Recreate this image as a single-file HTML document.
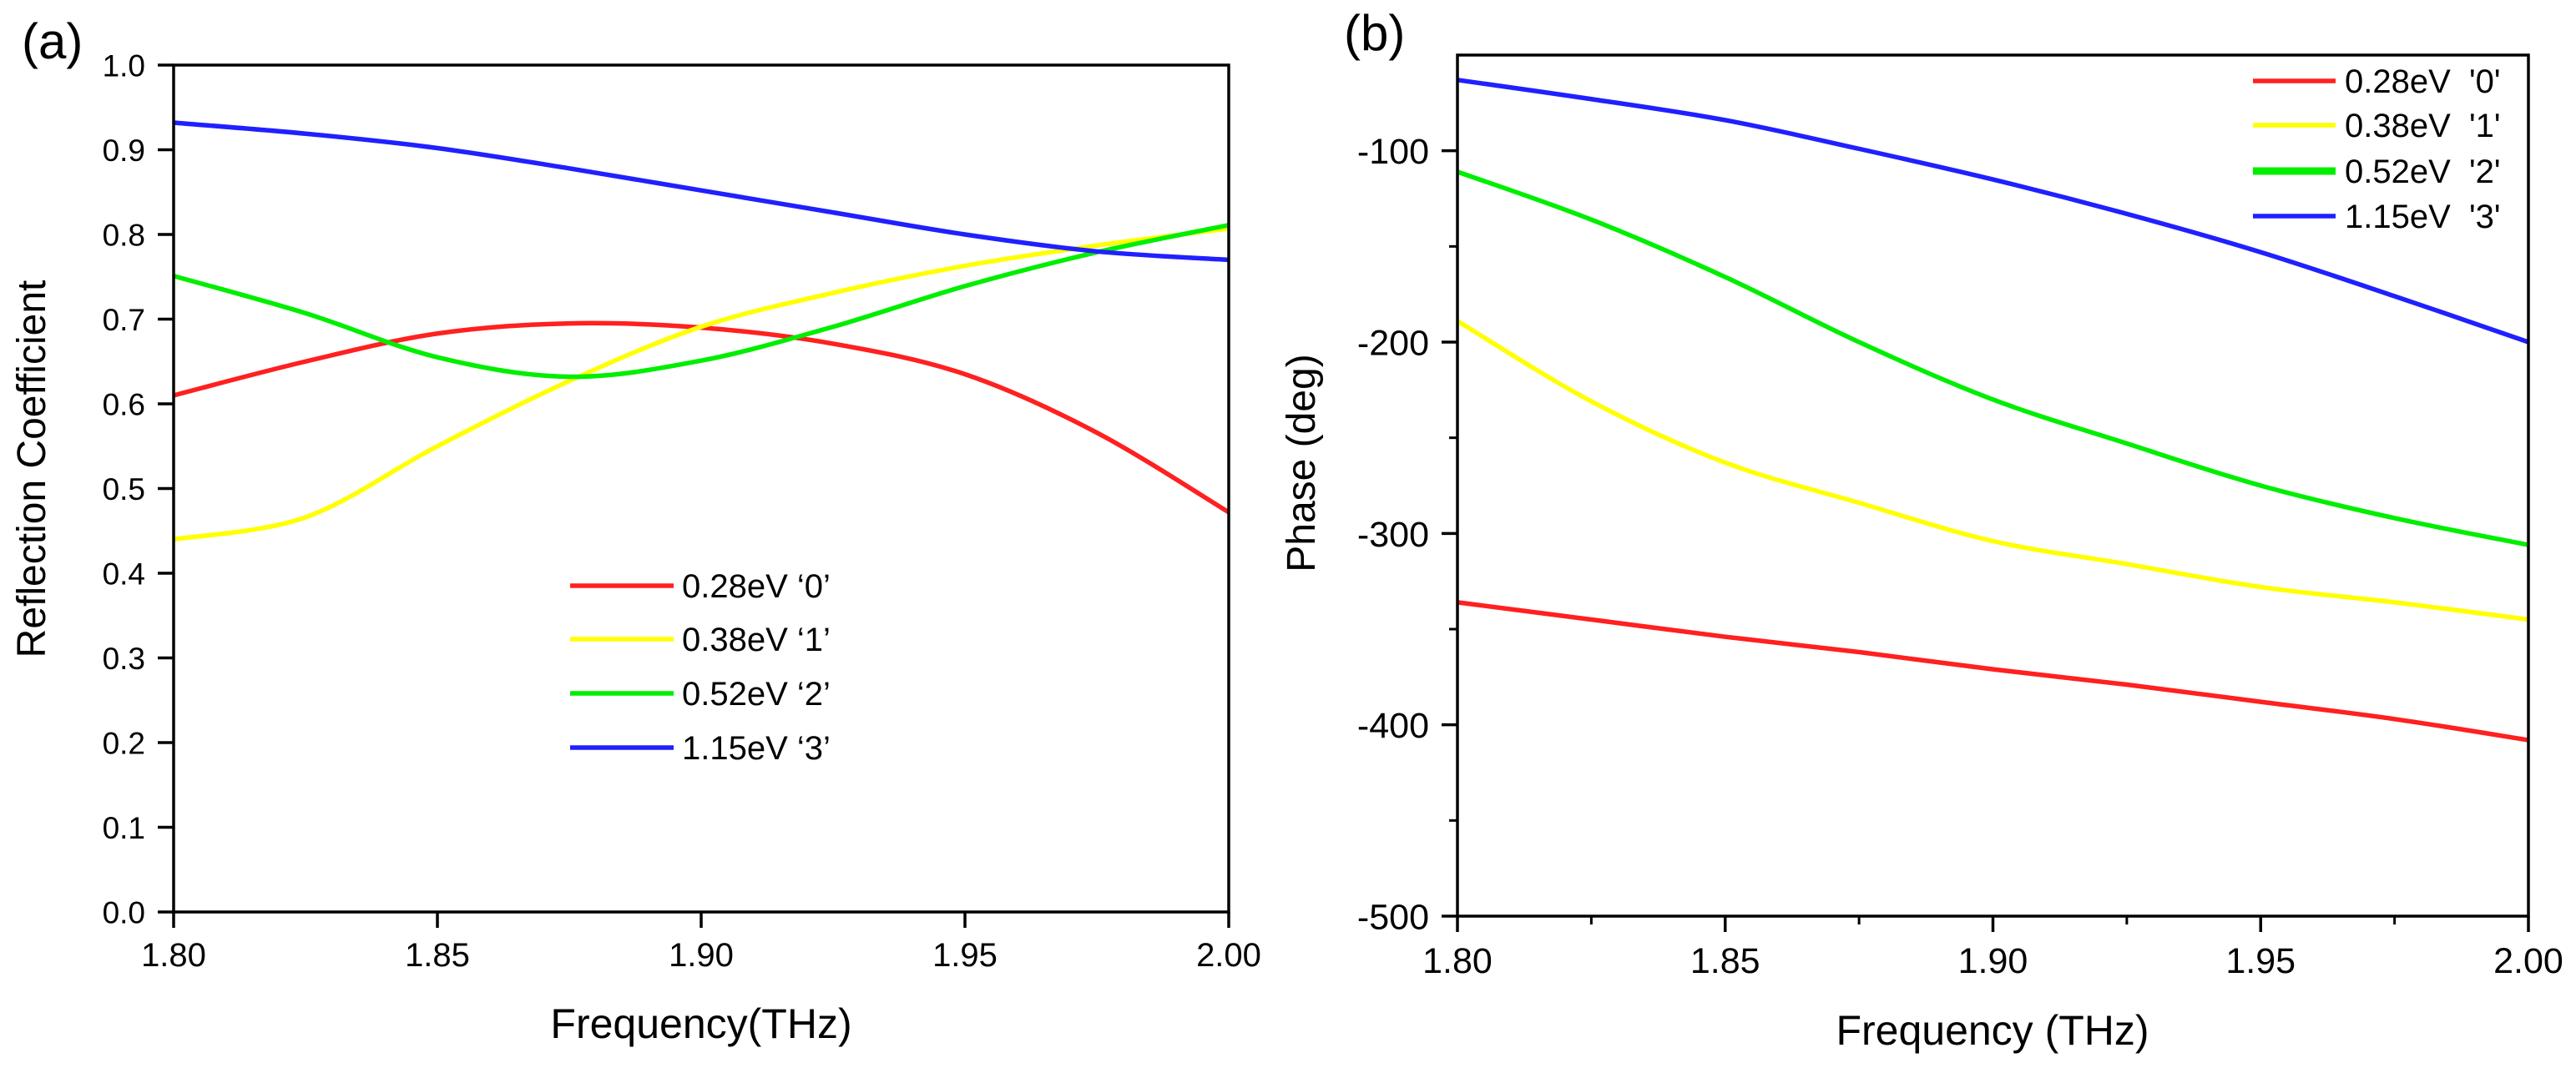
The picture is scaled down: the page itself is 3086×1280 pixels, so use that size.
<!DOCTYPE html>
<html><head><meta charset="utf-8"><style>
html,body{margin:0;padding:0;background:#fff;}
svg{display:block;font-family:"Liberation Sans",Arial,sans-serif;}
text{white-space:pre;}
</style></head><body>
<svg id="fig" width="3086" height="1280" viewBox="0 0 3086 1280" xmlns="http://www.w3.org/2000/svg"></svg>
<script>
// ---- Data: panel (a) reflection coefficient ----
const freqA = [1.80, 1.825, 1.85, 1.875, 1.90, 1.925, 1.95, 1.975, 2.00];
const reflRed = [0.610, 0.650, 0.683, 0.695, 0.690, 0.671, 0.635, 0.566, 0.472];
const reflYellow = [0.440, 0.466, 0.550, 0.627, 0.691, 0.731, 0.763, 0.787, 0.807];
const reflGreen = [0.751, 0.707, 0.655, 0.632, 0.651, 0.691, 0.739, 0.779, 0.811];
const reflBlue = [0.932, 0.919, 0.902, 0.878, 0.852, 0.826, 0.800, 0.780, 0.770];
const xTicksA = [1.80, 1.85, 1.90, 1.95, 2.00];
const xTickLabelsA = ["1.80", "1.85", "1.90", "1.95", "2.00"];
const yTicksA = [0, 0.1, 0.2, 0.3, 0.4, 0.5, 0.6, 0.7, 0.8, 0.9, 1.0];
const yTickLabelsA = ["0.0","0.1","0.2","0.3","0.4","0.5","0.6","0.7","0.8","0.9","1.0"];
// ---- Data: panel (b) phase ----
const freqB = [1.80, 1.825, 1.85, 1.875, 1.90, 1.925, 1.95, 1.975, 2.00];
const phaseRed = [-336, -345, -354, -362, -371, -379, -388, -397, -408];
const phaseYellow = [-189, -231, -263, -284, -304, -316, -328, -336, -345];
const phaseGreen = [-111, -136, -166, -200, -230, -253, -275, -292, -306];
const phaseBlue = [-63, -73, -84, -99, -115, -133, -153, -176, -200];
const xTicksB = [1.80, 1.85, 1.90, 1.95, 2.00];
const xTickLabelsB = ["1.80", "1.85", "1.90", "1.95", "2.00"];
const xMinorB = [1.825, 1.875, 1.925, 1.975];
const yTicksB = [-500, -400, -300, -200, -100];
const yTickLabelsB = ["-500", "-400", "-300", "-200", "-100"];
const yMinorB = [-450, -350, -250, -150];
const legendLabelsA = ["0.28eV \u20180\u2019", "0.38eV \u20181\u2019", "0.52eV \u20182\u2019", "1.15eV \u20183\u2019"];
const legendLabelsB = ["0.28eV  '0'", "0.38eV  '1'", "0.52eV  '2'", "1.15eV  '3'"];
const colors = ["#ff2020", "#ffff00", "#00ee00", "#2020ff"];

const NS = "http://www.w3.org/2000/svg";
const svg = document.getElementById("fig");
function mk(tag, attrs, parent, text) {
  const e = document.createElementNS(NS, tag);
  for (const k in attrs) e.setAttribute(k, attrs[k]);
  if (text !== undefined) e.textContent = text;
  (parent || svg).appendChild(e);
  return e;
}
function smoothPath(pts) {
  let d = "M" + pts[0][0] + "," + pts[0][1];
  for (let i = 0; i < pts.length - 1; i++) {
    const p0 = pts[i - 1] || pts[i], p1 = pts[i], p2 = pts[i + 1], p3 = pts[i + 2] || p2;
    const c1 = [p1[0] + (p2[0] - p0[0]) / 6, p1[1] + (p2[1] - p0[1]) / 6];
    const c2 = [p2[0] - (p3[0] - p1[0]) / 6, p2[1] - (p3[1] - p1[1]) / 6];
    d += " C" + c1.join(",") + " " + c2.join(",") + " " + p2.join(",");
  }
  return d;
}

function panel(cfg) {
  const g = mk("g", {});
  
  
  const {L, R, T, B, x0, x1, y0, y1} = cfg;
  const sx = v => L + (v - x0) / (x1 - x0) * (R - L);
  const sy = v => B - (v - y0) / (y1 - y0) * (B - T);
  cfg.series.forEach((s, i) => {
    const pts = s.map((v, j) => [sx(cfg.xs[j]), sy(v)]);
    const p = mk("path", {d: smoothPath(pts), fill: "none", stroke: colors[i], "stroke-width": 5.5, "stroke-linejoin": "round"}, g);
    
    
  });
  const f = mk("rect", {x: L, y: T, width: R - L, height: B - T, fill: "none", stroke: "#000", "stroke-width": 3.5}, g);
  
  
  cfg.xTicks.forEach((v, i) => {
    const x = sx(v);
    mk("line", {x1: x, y1: B, x2: x, y2: B + 19, stroke: "#000", "stroke-width": 3.5}, g);
    const t = mk("text", {x: x, y: B + cfg.xLabOff, "text-anchor": "middle", "font-size": cfg.tickFs}, g, cfg.xLabels[i]);
    
    
  });
  (cfg.xMinor || []).forEach(v => mk("line", {x1: sx(v), y1: B, x2: sx(v), y2: B + 10, stroke: "#000", "stroke-width": 3}, g));
  cfg.yTicks.forEach((v, i) => {
    const y = sy(v);
    mk("line", {x1: L - 19, y1: y, x2: L, y2: y, stroke: "#000", "stroke-width": 3.5}, g);
    const t = mk("text", {x: L - 34, y: y + cfg.yFs * 0.36, "text-anchor": "end", "font-size": cfg.yFs}, g, cfg.yLabels[i]);
    
    
  });
  (cfg.yMinor || []).forEach(v => mk("line", {x1: L - 10, y1: sy(v), x2: L, y2: sy(v), stroke: "#000", "stroke-width": 3}, g));
  const xt = mk("text", {x: cfg.xTitle[1], y: cfg.xTitle[2], "text-anchor": "middle", "font-size": 50}, g, cfg.xTitle[0]);
  
  
  const yt = mk("text", {x: 0, y: 0, "text-anchor": "middle", "font-size": 48, transform: "translate(" + cfg.yTitle[1] + "," + cfg.yTitle[2] + ") rotate(-90)"}, g, cfg.yTitle[0]);
  
  
  const pl = mk("text", {x: cfg.panelLabel[1], y: cfg.panelLabel[2], "font-size": 60}, g, cfg.panelLabel[0]);
  
  
  const lg = mk("g", {}, g);
  
  
  cfg.legend.labels.forEach((lab, i) => {
    const y = cfg.legend.ys[i];
    const e = mk("g", {}, lg);
    
    
    mk("line", {x1: cfg.legend.x1, y1: y, x2: cfg.legend.x2, y2: y, stroke: colors[i], "stroke-width": (cfg.legend.thick && i === 2) ? 9 : 5.5}, e);
    mk("text", {x: cfg.legend.tx, y: y + 14, "font-size": cfg.legend.fs}, e, lab);
  });
}

panel({
  name: "panel-a-reflection", L: 208, R: 1472, T: 78, B: 1093, x0: 1.8, x1: 2.0, y0: 0, y1: 1.0,
  xs: freqA, series: [reflRed, reflYellow, reflGreen, reflBlue], seriesNames: ["red", "yellow", "green", "blue"],
  xTicks: xTicksA, xLabels: xTickLabelsA, yTicks: yTicksA, yLabels: yTickLabelsA,
  tickFs: 40, xLabOff: 65, yFs: 37,
  xTitle: ["Frequency(THz)", 840, 1244], yTitle: ["Reflection Coefficient", 54, 562], panelLabel: ["(a)", 26, 70],
  legend: {labels: legendLabelsA, ys: [702, 766, 831, 896], x1: 683, x2: 807, tx: 817, fs: 40}
});
panel({
  name: "panel-b-phase", L: 1746, R: 3029, T: 66, B: 1098, x0: 1.8, x1: 2.0, y0: -500, y1: -50,
  xs: freqB, series: [phaseRed, phaseYellow, phaseGreen, phaseBlue], seriesNames: ["red", "yellow", "green", "blue"],
  xTicks: xTicksB, xLabels: xTickLabelsB, xMinor: xMinorB, yTicks: yTicksB, yLabels: yTickLabelsB, yMinor: yMinorB,
  tickFs: 43, xLabOff: 68, yFs: 43,
  xTitle: ["Frequency (THz)", 2387, 1252], yTitle: ["Phase (deg)", 1575, 555], panelLabel: ["(b)", 1610, 60],
  legend: {labels: legendLabelsB, ys: [97, 150, 205, 259], x1: 2699, x2: 2798, tx: 2809, fs: 40, thick: true}
});
</script>
</body></html>
